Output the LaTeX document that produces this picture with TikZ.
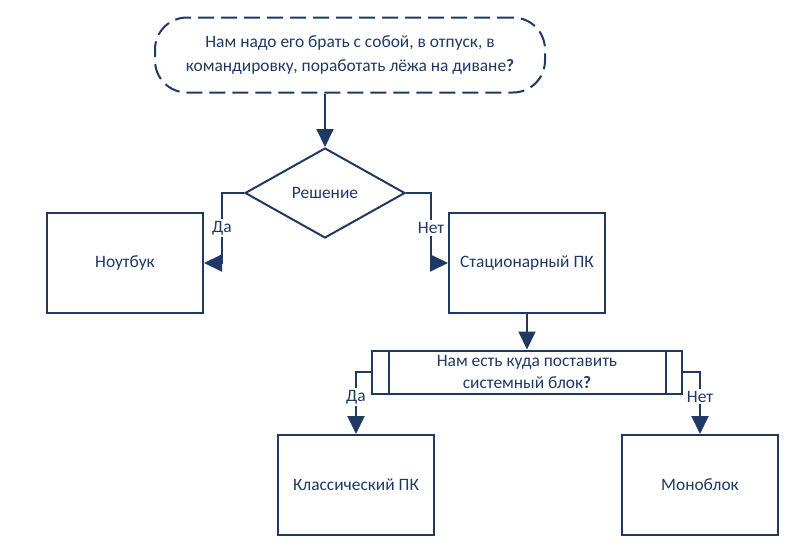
\documentclass[tikz,border=0pt]{standalone}
\usepackage{fontspec}
\setmainfont{Carlito}
\usetikzlibrary{positioning, calc, shapes.geometric, arrows.meta}
\definecolor{navy}{HTML}{1F3864}
\begin{document}
\begin{tikzpicture}[x=1pt, y=-1pt,
    every node/.style={text=navy, font=\fontsize{17.4}{24}\selectfont},
    box/.style={draw=navy, line width=2pt, minimum width=156pt, minimum height=100pt},
    link/.style={draw=navy, line width=2pt, -{Triangle[length=18pt, width=17pt]}},
    lbl/.style={fill=white, inner sep=2pt}]
    \useasboundingbox (0,0) rectangle (796,557);
    % Terminal
    \node[draw=navy, line width=2pt, dash pattern=on 16pt off 7pt, rounded corners=32pt,
        minimum width=390pt, minimum height=75pt, align=center] (start) at (350,55)
        {Нам надо его брать с собой, в отпуск, в\\командировку, поработать лёжа на диване\textbf{?}};
    % Decision
    \node[draw=navy, line width=2pt, diamond, aspect=1.78, minimum width=160pt, minimum height=90pt,
        inner sep=0pt] (dec) at (325,193) {Решение};
    \node[box] (nb) at (125,263) {Ноутбук};
    \node[box] (pc) at (527,263) {Стационарный ПК};
    % Predefined process
    \node[draw=navy, line width=2pt, minimum width=310pt, minimum height=43pt, align=center,
        inner sep=0pt] (place) at (527,372) {Нам есть куда поставить\\[-2pt]системный блок\textbf{?}};
    \draw[navy, line width=2pt] ($(place.north west)+(18,0)$) -- ($(place.south west)+(18,0)$);
    \draw[navy, line width=2pt] ($(place.north east)+(-17,0)$) -- ($(place.south east)+(-17,0)$);
    \node[box] (cl) at (356,485) {Классический ПК};
    \node[box] (mono) at (700,485) {Моноблок};
    % Connectors
    \draw[link] (dec |- start.south) -- (dec.north);
    \draw[link] (dec.west) -- ++(-22,0) |- (nb.east) node[lbl, pos=0.25] {Да};
    \draw[link] (dec.east) -- ++(25,0) |- (pc.west) node[lbl, pos=0.25] {Нет};
    \draw[link] (pc) -- (place);
    \draw[link] (place.west) -| (cl.north) node[lbl, pos=0.7] {Да};
    \draw[link] (place.east) -| (mono.north) node[lbl, pos=0.7] {Нет};
\end{tikzpicture}
\end{document}
